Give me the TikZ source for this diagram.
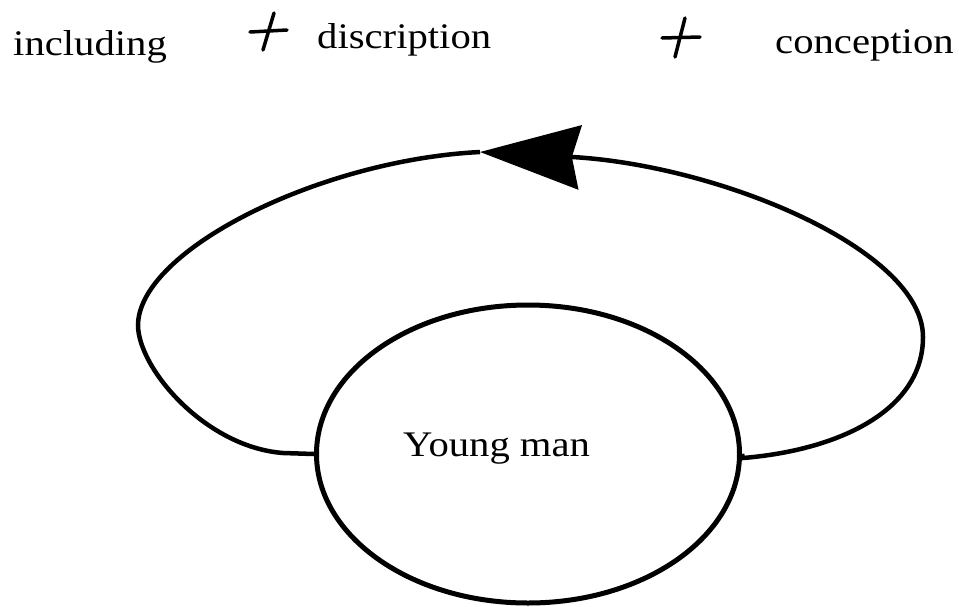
\documentclass[tikz,border=0pt]{standalone}
\usepackage{fontspec}
\setmainfont{Liberation Serif}[FakeStretch=1.13]
\usetikzlibrary{arrows.meta,positioning,shapes.geometric}

\begin{document}
\begin{tikzpicture}[
        x=1pt, y=-1pt,
        word/.style={inner sep=0pt, anchor=base west, font=\fontsize{36}{42}\selectfont},
        oval/.style={ellipse, draw, line width=5pt, minimum width=423pt, minimum height=298pt, inner sep=0pt},
        loopline/.style={line width=4.5pt},
        crossline/.style={line width=3.5pt, line cap=round},
        bigtip/.style={-{Stealth[length=100pt, width=64pt, inset=8pt]}},
    ]
        \useasboundingbox (0,0) rectangle (959,606);

        % Top line of words
        \node[word] (incl) at (13,55) {including};
        \node[word] (disc) at (317,48) {discription};
        \node[word] (conc) at (775,53) {conception};

        % Hand-drawn plus signs
        \draw[crossline] (250,32) -- (287,30);
        \draw[crossline] (274,13) -- (263,50);
        \draw[crossline] (662,38) -- (700,37);
        \draw[crossline] (685,18) -- (675,57);

        % Ellipse
        \node[oval] (man) at (528,454) {};
        \node[word] (young) at (403,456) {Young man};

        % Loop around it
        \coordinate (tip) at (480,152);
        \coordinate (lft) at (138,325);
        \coordinate (rgt) at (923,337);

        \draw[loopline, bigtip] (man.east) -- (743,458) .. controls (840,450) and (923,410) .. (rgt)
            .. controls (923,250) and (720,165) .. (tip);
        \draw[loopline] (tip) .. controls (320,160) and (139,250) .. (lft)
            .. controls (138,368) and (205,447) .. (283,453) -- (man.west);
    \end{tikzpicture}
\end{document}
